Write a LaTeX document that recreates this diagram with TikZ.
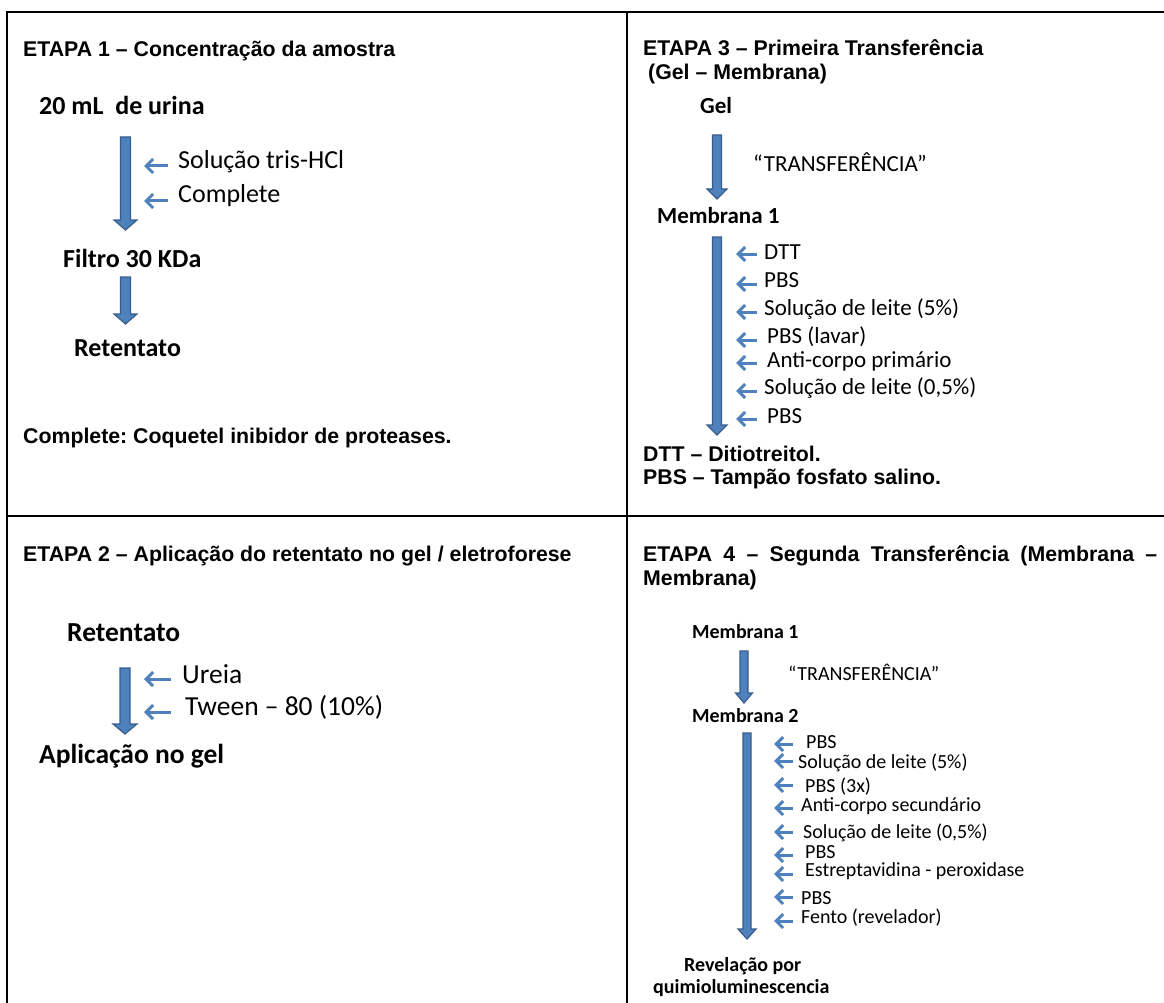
\documentclass[tikz,border=0pt]{standalone}
\usepackage{fontspec}
\setmainfont{Liberation Sans}
\newfontfamily\calibri{Carlito}
\usetikzlibrary{calc,arrows.meta}
\frenchspacing
\definecolor{blockfill}{HTML}{4F81BD}
\definecolor{blockline}{HTML}{385D8A}
\definecolor{addblue}{HTML}{4F81BD}
\tikzset{
  heading/.style={anchor=base west, inner sep=0pt, font=\fontsize{21.3}{24}\selectfont\bfseries},
  flow/.style={anchor=base west, inner sep=0pt, font=\calibri\fontsize{#1}{#1}\selectfont},
  flowb/.style={anchor=base west, inner sep=0pt, font=\calibri\bfseries\fontsize{#1}{#1}\selectfont},
  blockarr/.style={fill=blockfill, draw=blockline, line width=1.2pt, line join=miter},
  addarrow/.style={color=addblue, line width=3pt, -{Straight Barb[length=7pt,width=14pt]}},
  frame/.style={line width=2.5pt, black}
}
% #1 top, #2 tip, #3 half shaft, #4 half head
\newcommand{\blockarrow}[4]{%
  \filldraw[blockarr] ($(#1)+(-#3,0)$) -- ($(#2)+(-#3,-10)$) -- ($(#2)+(-#4,-10)$)
    -- (#2) -- ($(#2)+(#4,-10)$) -- ($(#2)+(#3,-10)$) -- ($(#1)+(#3,0)$) -- cycle;}
\begin{document}
\begin{tikzpicture}[x=1pt, y=-1pt]
    \useasboundingbox (0,0) rectangle (1164,1003);
    % table
    \draw[frame] (7,1003) -- (7,12) -- (1164,12);
    \draw[frame] (627,12) -- (627,1003);
    \draw[frame] (7,516) -- (1164,516);

    % ETAPA 1
    \node[heading] (h1) at (23,57) {ETAPA 1 – Concentração da amostra};
    \node[flowb=26] (urina) at (39,115) {20 mL\ \ de urina};
    \coordinate (a1top) at (125.5,137);
    \coordinate (a1tip) at (125.5,230);
    \blockarrow{a1top}{a1tip}{5}{11.5}
    \foreach \nm/\tx/\ty/\ay/\txt in {tris/178/169/166/{Solução tris-HCl}, compl/178/203/201/Complete} {
        \node[flow=26] (\nm) at (\tx,\ty) {\txt};
        \coordinate (\nm-in) at (168,\ay);
        \draw[addarrow] (\nm-in) -- ++(-24,0);
    }
    \node[flowb=26] (filtro) at (63,267) {Filtro 30 KDa};
    \coordinate (a2top) at (125.5,277);
    \coordinate (a2tip) at (125.5,324);
    \blockarrow{a2top}{a2tip}{5}{11.5}
    \node[flowb=26] (ret1) at (74,356) {Retentato};
    \node[heading] (nota1) at (23,443) {Complete: Coquetel inibidor de proteases.};

    % ETAPA 2
    \node[heading] (h2) at (23,561) {ETAPA 2 – Aplicação do retentato no gel / eletroforese};
    \node[flowb=27.5] (ret2) at (67,641) {Retentato};
    \coordinate (a3top) at (125,668);
    \coordinate (a3tip) at (125,734);
    \blockarrow{a3top}{a3tip}{5}{12}
    \foreach \nm/\tx/\ty/\ay/\txt in {ureia/182/683/679/Ureia, tween/185/715/712/{Tween – 80 (10\%)}} {
        \node[flow=27.5] (\nm) at (\tx,\ty) {\txt};
        \coordinate (\nm-in) at (171,\ay);
        \draw[addarrow] (\nm-in) -- ++(-27,0);
    }
    \node[flowb=27.5] (aplic) at (39,763) {Aplicação no gel};

    % ETAPA 3
    \node[heading] (h3) at (643,56) {ETAPA 3 – Primeira Transferência};
    \node[heading] (h3b) at (648,80) {(Gel – Membrana)};
    \node[flowb=23] (gel) at (700,114) {Gel};
    \coordinate (a4top) at (717,135);
    \coordinate (a4tip) at (717,199);
    \blockarrow{a4top}{a4tip}{4.5}{10}
    \node[flow=23] (transf1) at (753,172) {“TRANSFERÊNCIA”};
    \node[flowb=23] (memb1) at (657,223) {Membrana 1};
    \coordinate (a5top) at (717,237);
    \coordinate (a5tip) at (717,435);
    \blockarrow{a5top}{a5tip}{4.5}{10}
    \foreach \nm/\tx/\ty/\ay/\txt in {dtt/764/259/254/DTT, pbsa/764/287/284/PBS,
        leitea/764/315/312/{Solução de leite (5\%)}, lavar/767/343/340/{PBS (lavar)},
        primario/767/367/363/{Anti-corpo primário}, leiteb/764/394/391/{Solução de leite (0,5\%)},
        pbsb/767/423/419/PBS} {
        \node[flow=23] (\nm) at (\tx,\ty) {\txt};
        \coordinate (\nm-in) at (757,\ay);
        \draw[addarrow] (\nm-in) -- ++(-21,0);
    }
    \node[heading] (nota3a) at (643,461) {DTT – Ditiotreitol.};
    \node[heading] (nota3b) at (643,484) {PBS – Tampão fosfato salino.};

    % ETAPA 4
    \node[heading] (h4) at (643,561) {\makebox[514pt][s]{ETAPA 4 – Segunda Transferência (Membrana –}};
    \node[heading] (h4b) at (643,585) {Membrana)};
    \node[flowb=20] (memb1b) at (692,638) {Membrana 1};
    \coordinate (a6top) at (744,651);
    \coordinate (a6tip) at (744,703);
    \blockarrow{a6top}{a6tip}{4}{8.5}
    \node[flow=20] (transf2) at (788,680) {“TRANSFERÊNCIA”};
    \node[flowb=20] (memb2) at (692,722) {Membrana 2};
    \coordinate (a7top) at (747,733);
    \coordinate (a7tip) at (747,939);
    \blockarrow{a7top}{a7tip}{4}{9}
    \foreach \nm/\tx/\ty/\ay/\txt in {pbsc/806/748/744/PBS, leitec/798/768/761/{Solução de leite (5\%)},
        pbsd/805/792/785/{PBS (3x)}, secund/801/811/808/{Anti-corpo secundário},
        leited/803/838/832/{Solução de leite (0,5\%)}, pbse/805/858/855/PBS,
        estrep/805/876/874/{Estreptavidina - peroxidase}, pbsf/801/904/897/PBS,
        fento/801/923/921/{Fento (revelador)}} {
        \node[flow=20] (\nm) at (\tx,\ty) {\txt};
        \coordinate (\nm-in) at (793,\ay);
        \draw[addarrow] (\nm-in) -- ++(-19,0);
    }
    \node[flowb=20] (revel) at (684,971) {Revelação por};
    \node[flowb=20] (quimio) at (653,993) {quimioluminescencia};
\end{tikzpicture}
\end{document}
